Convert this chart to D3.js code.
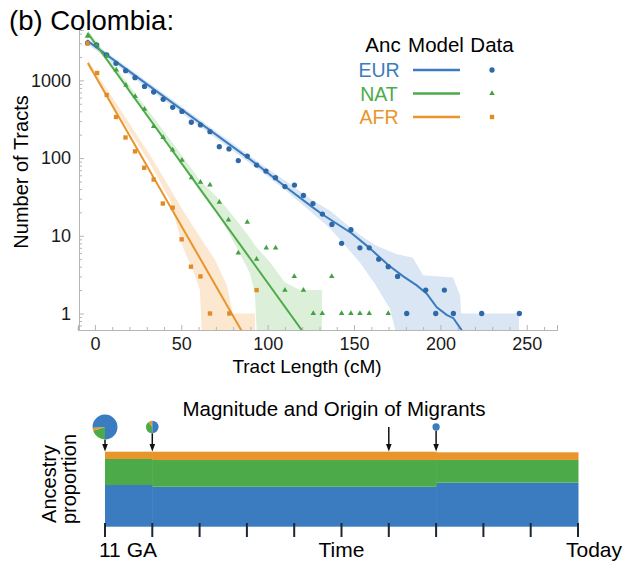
<!DOCTYPE html>
<html>
<head>
<meta charset="utf-8">
<script src="https://d3js.org/d3.v7.min.js"></script>
<style>
body { margin: 0; background: #fff; }
svg text { font-family: "Liberation Sans", Arial, sans-serif; }
</style>
</head>
<body>
<div id="chart"></div>
<script>

// tract length histogram (cM, count)
var eurLen = [-4.3, 1.0, 6.8, 12.2, 17.8, 23.2, 28.7, 34.0, 39.5, 45.0, 50.4, 55.8, 61.1, 66.6, 72.0, 77.6, 83.0, 88.2, 93.6, 99.0,
              104.5, 110.0, 115.5, 120.7, 126.2, 131.7, 137.2, 142.8, 148.2, 153.4, 158.8, 164.3, 169.8, 175.2, 180.5, 191.5, 197.3, 202.3, 207.5, 223.9, 245.7];
var eurCount = [3030, 2855, 2125, 1660, 1333, 1083, 835, 709, 571, 450, 398, 289, 267, 219, 140, 131, 93, 106, 81, 68,
                56, 43, 45, 33, 26, 19, 14, 8, 12, 7, 7, 5, 4, 3, 1, 2, 1, 2, 1, 1, 1];

var natLen = [-4.3, 1.0, 6.9, 12.4, 17.9, 23.3, 28.7, 34.0, 39.5, 45.0, 50.4, 55.9, 61.1, 66.6, 72.0, 77.3, 83.0, 88.2, 93.6, 99.2,
              104.6, 110.0, 115.4, 120.7, 126.4, 131.6, 137.1, 142.8, 148.2, 153.4, 158.8, 169.8];
var natCount = [3700, 2850, 2060, 1360, 870, 620, 425, 255, 185, 127, 94, 56, 49, 45, 27, 16, 6, 15, 5, 7,
                7, 2, 3, 2, 1, 1, 3, 1, 1, 1, 1, 1];

var afrLen = [-4.3, 1.3, 6.8, 12.2, 17.7, 23.2, 28.5, 34.0, 39.3, 45.0, 50.2, 55.6, 61.1, 66.6, 77.8, 93.6];
var afrCount = [3000, 1245, 649, 338, 184, 122, 75, 53, 26, 23, 9, 4, 3, 1, 1, 2];

// model curves
var eurModelLen = [-4.5, 95.5, 109.0, 125.5, 132.2, 148.6, 158.2, 169.8, 178.5, 186.3, 192.1, 197.9, 203.6, 207.5, 212.3];
var eurModel = [3245, 77.5, 45, 23.7, 18.5, 10.8, 7.2, 4.2, 3.0, 2.3, 1.8, 1.2, 0.96, 0.87, 0.61];
var natModelLen = [-4.3, 125];
var natModel = [4100, 0.42];
var afrModelLen = [-4.1, 90];
var afrModel = [1675, 0.38];

// confidence bands
var eurBandLen = [-4.6, 95.5, 109.9, 125.5, 136.1, 144.8, 153.5, 162.1, 170.8, 174.9, 184.1, 189.9, 207.3, 211.4, 212.0, 245.5];
var eurBandHi = [3500, 86, 52, 29, 21, 14.5, 10.2, 7.6, 6.3, 5.8, 5.2, 3.1, 2.9, 1.7, 1.0, 1.0];
var eurBandLo = [2950, 69, 39, 20, 12.5, 7.5, 4.5, 2.4, 1.15, 0.5, 0.5, 0.5, 0.5, 0.5, 0.5, 0.5];
var natBandLen = [-4.1, 46.3, 60.8, 72.4, 82.8, 89.7, 92.6, 93.8, 101.3, 110.0, 118.7, 131.4];
var natBandHi = [4450, 143, 52, 28.9, 15, 9.4, 7.6, 7.0, 4.6, 2.5, 2.0, 2.0];
var natBandLo = [3727, 113, 36.6, 17.5, 6.6, 3.3, 1.84, 0.5, 0.5, 0.5, 0.5, 0.5];
var afrBandLen = [-4.1, 31.8, 43.4, 50.8, 56.7, 60.8, 61.9, 69.5, 76.4, 79.9, 92.6];
var afrBandHi = [1832, 110, 41, 21.5, 13.4, 9.7, 8.8, 4.9, 2.3, 1.0, 1.0];
var afrBandLo = [1532, 86.5, 28.9, 7.2, 3.6, 2.0, 0.5, 0.5, 0.5, 0.5, 0.5];

var yTicks = [1, 10, 100, 1000];
var xTicks = [0, 50, 100, 150, 200, 250];
var ancNames = ["EUR", "NAT", "AFR"];

// migration history panel
var timeTicks = [0, 1, 2, 3, 4, 5, 6, 7, 8, 9, 10];
var timeLabels = ["11 GA", "Time", "Today"];
var pulseStep = [0, 1, 6, 7];
var pulseMagnitude = [1, 0.25, 0, 0.085];
var pulseEUR = [0.76, 0.5, 0, 1];
var pulseNAT = [0.2, 0.4, 0, 0];
var pulseAFR = [0.04, 0.1, 0, 0];
var segStart = [0, 1, 7];
var segEnd = [1, 7, 10];
var segEUR = [0.556, 0.533, 0.587];
var segNAT = [0.347, 0.356, 0.303];
var segAFR = [0.097, 0.111, 0.102];

var colors = {EUR: "#3a7cbf", NAT: "#4cab48", AFR: "#e8952c"};
var pointColors = {EUR: "#2f68a6", NAT: "#43a043", AFR: "#e08c26"};
var bandColors = {EUR: "#d3e2f1", NAT: "#d6edd2", AFR: "#fbe3c8"};

var svg = d3.select("#chart")
            .append("svg")
            .attr("width", 634)
            .attr("height", 565);

var x = d3.scaleLinear().domain([-9.8, 267.5]).range([78, 557]);
var y = d3.scaleLog().domain([0.613, 4450]).range([330, 30]);

svg.append("defs").append("clipPath").attr("id", "plotclip")
   .append("rect").attr("x", 79).attr("y", 30).attr("width", 478).attr("height", 300);

function zipBand(len, lo, hi) {
  return len.map(function(d, i) { return {len: d, lo: lo[i], hi: hi[i]}; });
}
function zipPts(len, val) {
  return len.map(function(d, i) { return {len: d, v: val[i]}; });
}

var bands = [
  {id: "EUR", data: zipBand(eurBandLen, eurBandLo, eurBandHi)},
  {id: "NAT", data: zipBand(natBandLen, natBandLo, natBandHi)},
  {id: "AFR", data: zipBand(afrBandLen, afrBandLo, afrBandHi)}
];
var models = [
  {id: "EUR", data: zipPts(eurModelLen, eurModel)},
  {id: "NAT", data: zipPts(natModelLen, natModel)},
  {id: "AFR", data: zipPts(afrModelLen, afrModel)}
];
var points = [
  {id: "EUR", shape: d3.symbolCircle, size: 22, data: zipPts(eurLen, eurCount)},
  {id: "NAT", shape: d3.symbolTriangle, size: 13, data: zipPts(natLen, natCount)},
  {id: "AFR", shape: d3.symbolSquare, size: 19, data: zipPts(afrLen, afrCount)}
];

var area = d3.area()
             .x(function(d) { return x(d.len); })
             .y0(function(d) { return y(d.lo); })
             .y1(function(d) { return y(d.hi); });
var line = d3.line()
             .x(function(d) { return x(d.len); })
             .y(function(d) { return y(d.v); });

var plot = svg.append("g").attr("clip-path", "url(#plotclip)");

plot.selectAll("path.band")
    .data(bands)
    .enter()
    .append("path")
    .attr("class", "band")
    .attr("d", function(d) { return area(d.data); })
    .style("fill", function(d) { return bandColors[d.id]; })
    .style("opacity", 0.85);

plot.selectAll("path.model")
    .data(models)
    .enter()
    .append("path")
    .attr("class", "model")
    .attr("d", function(d) { return line(d.data); })
    .style("fill", "none")
    .style("stroke", function(d) { return colors[d.id]; })
    .style("stroke-width", 2);

points.forEach(function(s) {
  plot.append("g").selectAll("path")
      .data(s.data)
      .enter()
      .append("path")
      .attr("transform", function(d) { return "translate(" + x(d.len) + "," + y(d.v) + ")"; })
      .attr("d", d3.symbol().type(s.shape).size(s.size))
      .style("fill", pointColors[s.id]);
});

// axes
var yAxis = d3.axisLeft(y).tickValues(yTicks).tickFormat(d3.format("d")).tickSize(-5).tickPadding(8);
var gy = svg.append("g").attr("transform", "translate(79,0)").call(yAxis);
var yMinor = y.ticks().filter(function(d) { return yTicks.indexOf(d) < 0; });
svg.append("g").attr("transform", "translate(79,0)")
   .call(d3.axisLeft(y).tickValues(yMinor).tickFormat("").tickSize(-3));

var xAxis = d3.axisBottom(x).tickValues(xTicks).tickSize(-5).tickPadding(7);
var gx = svg.append("g").attr("transform", "translate(0,330)").call(xAxis);
var xMinor = d3.range(-10, 268, 10).filter(function(d) { return d % 50 != 0; });
svg.append("g").attr("transform", "translate(0,330)")
   .call(d3.axisBottom(x).tickValues(xMinor).tickFormat("").tickSize(-3));

svg.selectAll(".domain").style("stroke", "#b5b5b5");
svg.selectAll(".tick line").style("stroke", "#b5b5b5");
svg.selectAll(".tick text").style("font-size", "18px").style("fill", "#1a1a1a")
   .style("font-family", "'Liberation Sans', Arial, sans-serif");

svg.append("text")
   .attr("x", 307).attr("y", 373)
   .attr("text-anchor", "middle")
   .style("font-size", "19px")
   .text("Tract Length (cM)");

svg.append("text")
   .attr("transform", "translate(28,172) rotate(-90)")
   .attr("text-anchor", "middle")
   .style("font-size", "20px")
   .text("Number of Tracts");

svg.append("text")
   .attr("x", 9).attr("y", 30)
   .style("font-size", "27.5px")
   .text("(b) Colombia:");

// legend
var legend = svg.append("g");
legend.append("text").attr("x", 383).attr("y", 52).attr("text-anchor", "middle").style("font-size", "20.5px").text("Anc");
legend.append("text").attr("x", 436).attr("y", 52).attr("text-anchor", "middle").style("font-size", "20.5px").text("Model");
legend.append("text").attr("x", 492).attr("y", 52).attr("text-anchor", "middle").style("font-size", "20.5px").text("Data");

var legendRow = legend.selectAll("g.row")
                      .data(ancNames)
                      .enter()
                      .append("g")
                      .attr("class", "row")
                      .attr("transform", function(d, i) { return "translate(0," + (70 + i * 23.5) + ")"; });
legendRow.append("text")
         .attr("x", 379).attr("y", 7)
         .attr("text-anchor", "middle")
         .style("font-size", "19.5px")
         .style("fill", function(d) { return colors[d]; })
         .text(function(d) { return d; });
legendRow.append("line")
         .attr("x1", 413).attr("x2", 460)
         .style("stroke", function(d) { return colors[d]; })
         .style("stroke-width", 2.5);
legendRow.append("path")
         .attr("transform", "translate(492,0)")
         .attr("d", function(d, i) { return d3.symbol().type(points[i].shape).size(points[i].size)(); })
         .style("fill", function(d) { return pointColors[d]; });

// bottom panel: ancestry proportions through time
var t = d3.scaleLinear().domain([0, 10]).range([105, 578]);
var p = d3.scaleLinear().domain([0, 1]).range([526.7, 451.7]);
var rScale = d3.scaleSqrt().domain([0, 1]).range([0, 12.5]);

svg.append("text")
   .attr("x", 334).attr("y", 416)
   .attr("text-anchor", "middle")
   .style("font-size", "20.5px")
   .text("Magnitude and Origin of Migrants");

var segs = segStart.map(function(d, i) {
  return {a: d, b: segEnd[i], EUR: segEUR[i], NAT: segNAT[i], AFR: segAFR[i]};
});
var stack = d3.stack().keys(ancNames)(segs);

svg.append("g").selectAll("g")
   .data(stack)
   .enter()
   .append("g")
   .style("fill", function(d) { return colors[d.key]; })
   .selectAll("rect")
   .data(function(d) { return d; })
   .enter()
   .append("rect")
   .attr("x", function(d) { return t(d.data.a); })
   .attr("width", function(d) { return t(d.data.b) - t(d.data.a) + 0.5; })
   .attr("y", function(d) { return p(d[1]); })
   .attr("height", function(d) { return p(d[0]) - p(d[1]); });

svg.append("g").selectAll("line")
   .data(timeTicks)
   .enter()
   .append("line")
   .attr("x1", function(d) { return t(d); })
   .attr("x2", function(d) { return t(d); })
   .attr("y1", 523).attr("y2", 537)
   .style("stroke", "#1c2733")
   .style("stroke-width", 2);

svg.append("text").attr("x", 99).attr("y", 557).style("font-size", "21px").text(timeLabels[0]);
svg.append("text").attr("x", t(5)).attr("y", 557).attr("text-anchor", "middle").style("font-size", "21px").text(timeLabels[1]);
svg.append("text").attr("x", 622).attr("y", 557).attr("text-anchor", "end").style("font-size", "21px").text(timeLabels[2]);

svg.append("text")
   .attr("transform", "translate(56,484) rotate(-90)")
   .attr("text-anchor", "middle")
   .style("font-size", "20px")
   .text("Ancestry");
svg.append("text")
   .attr("transform", "translate(76,479) rotate(-90)")
   .attr("text-anchor", "middle")
   .style("font-size", "20px")
   .text("proportion");

// pulses: arrows and pies
var pies = pulseStep.map(function(d, i) {
  return {step: d, r: rScale(pulseMagnitude[i]), parts: [pulseNAT[i], pulseAFR[i], pulseEUR[i]]};
});
var pieGen = d3.pie().sort(null).startAngle(Math.PI).endAngle(3 * Math.PI);
var arc = d3.arc().innerRadius(0);
var pieY = 427;
var pieKeys = ["NAT", "AFR", "EUR"];

var pulse = svg.append("g").selectAll("g")
               .data(pies)
               .enter()
               .append("g")
               .attr("transform", function(d) { return "translate(" + t(d.step) + ",0)"; });

pulse.append("line")
     .attr("x1", 0).attr("x2", 0)
     .attr("y1", function(d) { return pieY + d.r; })
     .attr("y2", 446)
     .style("stroke", "#111")
     .style("stroke-width", 1.5);
pulse.append("path")
     .attr("d", "M-2.8,444L2.8,444L0,451.5Z")
     .style("fill", "#111");

pulse.filter(function(d) { return d.r > 0; })
     .selectAll("path.slice")
     .data(function(d) {
       return pieGen(d.parts).map(function(s, i) { s.r = d.r; s.key = pieKeys[i]; return s; });
     })
     .enter()
     .append("path")
     .attr("class", "slice")
     .attr("transform", "translate(0," + pieY + ")")
     .attr("d", function(d) { return arc.outerRadius(d.r)(d); })
     .style("fill", function(d) { return colors[d.key]; });

</script>
</body>
</html>
